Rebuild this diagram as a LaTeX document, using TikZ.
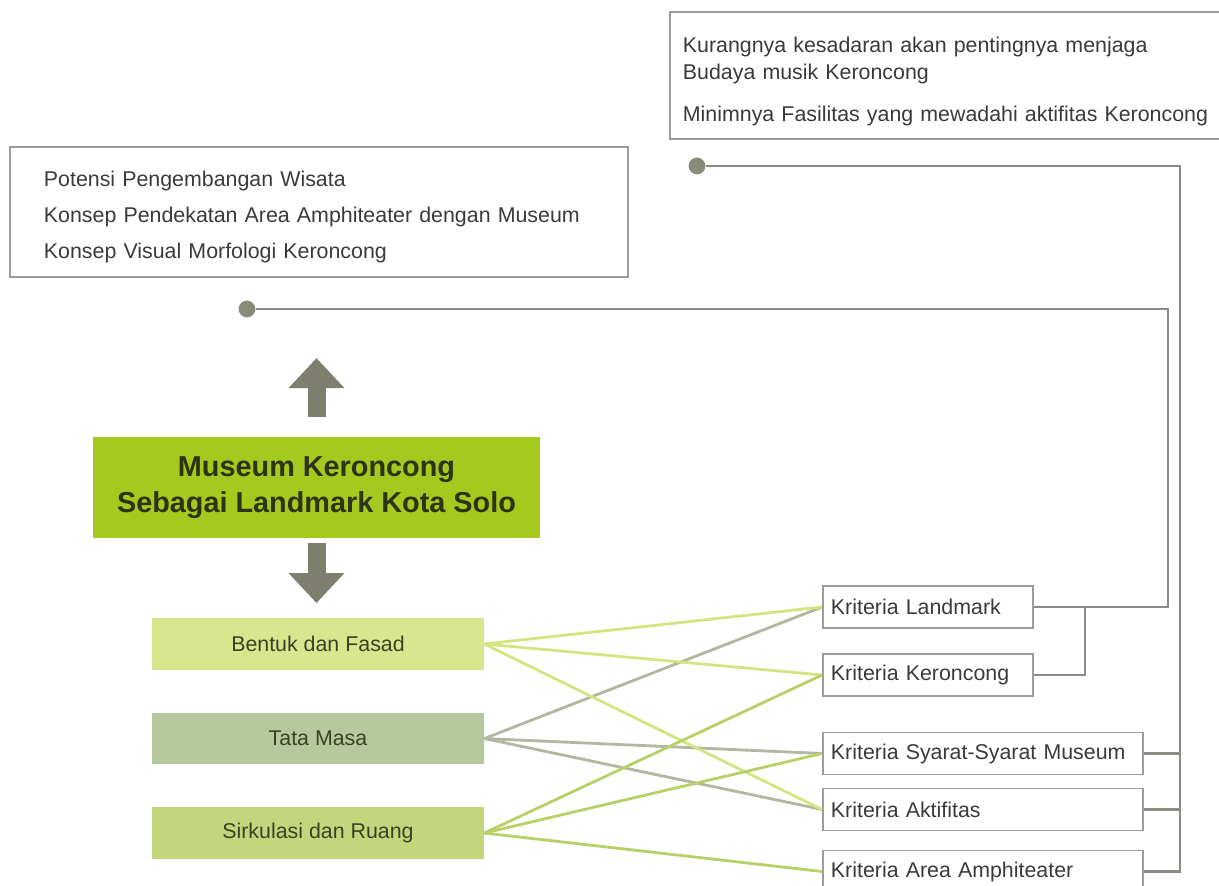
\documentclass[tikz,border=0pt]{standalone}
\usepackage{fontspec}
\setmainfont{Liberation Sans}
\usetikzlibrary{positioning, arrows.meta}

\definecolor{kmain}{HTML}{A6C91F}
\definecolor{kfasad}{HTML}{D8E78E}
\definecolor{kmasa}{HTML}{B8C89E}
\definecolor{kruang}{HTML}{C3D67B}
\definecolor{kfasadln}{HTML}{D2E580}
\definecolor{kmasaln}{HTML}{B2B79F}
\definecolor{kruangln}{HTML}{B9D068}
\definecolor{kbox}{HTML}{9C9C9A}
\definecolor{kline}{HTML}{8C8C86}
\definecolor{kdot}{HTML}{888B78}
\definecolor{karrow}{HTML}{7E7F6F}
\definecolor{ktext}{HTML}{3A3A3A}
\definecolor{kolive}{HTML}{3C4124}
\definecolor{ktitle}{HTML}{2C3414}

\begin{document}
\begin{tikzpicture}[x=0.025cm,y=-0.025cm,on grid,
    every node/.style={font=\fontsize{15.2}{19}\selectfont},
    box/.style={draw=kbox,line width=1.2pt,align=left,text=ktext},
    aspek/.style={fill=#1,minimum width=8.3cm,minimum height=1.28cm,text=kolive},
    krit/.style={draw=kbox,line width=1.2pt,text width=#1,inner xsep=0.2cm,
                 minimum height=1.05cm,align=left,text=ktext},
    dot/.style={circle,fill=kdot,minimum size=0.42cm,inner sep=0pt},
    conn/.style={draw=kline,line width=1.6pt},
    big/.style={draw=karrow,line width=12.8pt,-{Triangle[width=38.4pt,length=21.3pt]}}]
   \clip (0,0) rectangle (1219,886);

   % permasalahan dan konsep
   \node[box,text width=13.6cm,inner xsep=0.325cm,minimum height=3.175cm] (masalah) at (955,75.5)
      {\rule{0pt}{20pt}Kurangnya kesadaran akan pentingnya menjaga\\Budaya musik Keroncong\\[10.9pt]Minimnya Fasilitas yang mewadahi aktifitas Keroncong};
   \node[box,text width=13.75cm,inner xsep=0.85cm,minimum height=3.25cm,
         font=\fontsize{15.2}{25.6}\selectfont] (konsep) at (319,212)
      {\rule{0pt}{17.6pt}Potensi Pengembangan Wisata\\Konsep Pendekatan Area Amphiteater dengan Museum\\Konsep Visual Morfologi Keroncong};
   \node[dot] (d_1) at (697,166) {};
   \node[dot] (d_2) at (247,309) {};

   % judul dan aspek
   \node[fill=kmain,minimum width=11.175cm,minimum height=2.525cm,align=center,text=ktitle,
         font=\fontsize{20.5}{25.6}\selectfont\bfseries] (museum) at (316.5,487.5)
      {Museum Keroncong\\Sebagai Landmark Kota Solo};
   \node[aspek=kfasad] (a_1) at (318,644) {Bentuk dan Fasad};
   \node[aspek=kmasa] (a_2) [below=2.3625cm of a_1] {Tata Masa};
   \node[aspek=kruang] (a_3) [below=2.3625cm of a_2] {Sirkulasi dan Ruang};

   % kriteria
   \node[krit=4.85cm] (k_1) at (928,607) {Kriteria Landmark};
   \node[krit=4.85cm] (k_2) [below=1.7cm of k_1] {Kriteria Keroncong};
   \node[krit=7.6cm] (k_3) at (983,753.5) {Kriteria Syarat-Syarat Museum};
   \node[krit=7.6cm] (k_4) [below=1.4cm of k_3] {Kriteria Aktifitas};
   \node[krit=7.6cm] (k_5) [below=1.55cm of k_4] {Kriteria Area Amphiteater};

   \coordinate (bus_1) at (1180,0);
   \coordinate (bus_2) at (1168,0);
   \coordinate (bus_3) at (1085,0);

   \draw[conn] (d_1) -| (bus_1 |- k_5.east) -- (k_5.east);
   \draw[conn] (k_3.east) -- (k_3.east -| bus_1);
   \draw[conn] (k_4.east) -- (k_4.east -| bus_1);
   \draw[conn] (d_2) -| (bus_2 |- k_1.east) -- (k_1.east);
   \draw[conn] (k_2.east) -| (bus_3 |- k_1.east);

   \draw[big,shorten <=14.2pt,shorten >=34.9pt] (museum.north) -- (museum.north |- d_2);
   \draw[big,shorten <=3.6pt,shorten >=10.7pt] (museum.south) -- (museum.south |- a_1.north);

   \path[draw=kmasaln,line width=2pt]
   (a_2.east) edge (k_1.west)
              edge (k_3.west)
              edge (k_4.west);
   \path[draw=kfasadln,line width=2pt]
   (a_1.east) edge (k_1.west)
              edge (k_2.west)
              edge (k_4.west);
   \path[draw=kruangln,line width=2pt]
   (a_3.east) edge (k_2.west)
              edge (k_3.west)
              edge (k_5.west);
\end{tikzpicture}
\end{document}
